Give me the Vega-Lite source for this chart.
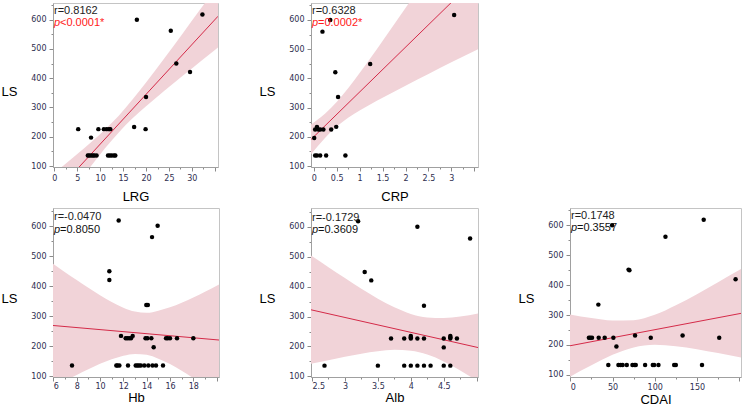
{
"$schema": "https://vega.github.io/schema/vega-lite/v6.json",
"padding": {"left": 0, "top": 0, "right": 0, "bottom": 0},
"datasets": {
"pts": [
{"v":"LRG","x":5.2,"ls":226},{"v":"LRG","x":8.0,"ls":197},{"v":"LRG","x":9.6,"ls":226},{"v":"LRG","x":10.8,"ls":226},{"v":"LRG","x":11.4,"ls":226},{"v":"LRG","x":11.9,"ls":226},{"v":"LRG","x":12.2,"ls":226},{"v":"LRG","x":17.4,"ls":233},{"v":"LRG","x":19.9,"ls":226},{"v":"LRG","x":20.0,"ls":336},{"v":"LRG","x":18.0,"ls":600},{"v":"LRG","x":25.4,"ls":562},{"v":"LRG","x":26.6,"ls":450},{"v":"LRG","x":29.6,"ls":421},{"v":"LRG","x":32.3,"ls":618},{"v":"LRG","x":7.3,"ls":136},{"v":"LRG","x":7.6,"ls":136},{"v":"LRG","x":8.0,"ls":136},{"v":"LRG","x":8.4,"ls":136},{"v":"LRG","x":8.7,"ls":136},{"v":"LRG","x":9.2,"ls":136},{"v":"LRG","x":11.7,"ls":136},{"v":"LRG","x":12.1,"ls":136},{"v":"LRG","x":12.5,"ls":136},{"v":"LRG","x":13.0,"ls":136},{"v":"LRG","x":13.3,"ls":136},
{"v":"CRP","x":0.36,"ls":600},{"v":"CRP","x":0.19,"ls":560},{"v":"CRP","x":1.23,"ls":449},{"v":"CRP","x":0.47,"ls":421},{"v":"CRP","x":0.53,"ls":336},{"v":"CRP","x":0.49,"ls":234},{"v":"CRP","x":0.38,"ls":225},{"v":"CRP","x":0.21,"ls":225},{"v":"CRP","x":0.03,"ls":225},{"v":"CRP","x":0.07,"ls":234},{"v":"CRP","x":0.10,"ls":225},{"v":"CRP","x":0.14,"ls":225},{"v":"CRP","x":0.01,"ls":196},{"v":"CRP","x":3.06,"ls":617},{"v":"CRP","x":0.03,"ls":136},{"v":"CRP","x":0.07,"ls":136},{"v":"CRP","x":0.14,"ls":136},{"v":"CRP","x":0.27,"ls":136},{"v":"CRP","x":0.69,"ls":136},
{"v":"Hb","x":7.6,"ls":135},{"v":"Hb","x":11.4,"ls":135},{"v":"Hb","x":11.5,"ls":135},{"v":"Hb","x":11.66,"ls":135},{"v":"Hb","x":12.4,"ls":135},{"v":"Hb","x":13.06,"ls":135},{"v":"Hb","x":13.2,"ls":135},{"v":"Hb","x":13.34,"ls":135},{"v":"Hb","x":13.5,"ls":135},{"v":"Hb","x":13.8,"ls":135},{"v":"Hb","x":14.14,"ls":135},{"v":"Hb","x":14.5,"ls":135},{"v":"Hb","x":14.8,"ls":135},{"v":"Hb","x":15.4,"ls":135},
{"v":"Hb","x":12.2,"ls":226},{"v":"Hb","x":12.34,"ls":226},{"v":"Hb","x":12.5,"ls":226},{"v":"Hb","x":12.66,"ls":226},{"v":"Hb","x":13.9,"ls":226},{"v":"Hb","x":14.06,"ls":226},{"v":"Hb","x":14.4,"ls":226},{"v":"Hb","x":15.66,"ls":226},{"v":"Hb","x":15.8,"ls":226},{"v":"Hb","x":16.0,"ls":226},{"v":"Hb","x":16.6,"ls":226},{"v":"Hb","x":18.0,"ls":226},{"v":"Hb","x":12.8,"ls":234},{"v":"Hb","x":11.8,"ls":234},
{"v":"Hb","x":14.6,"ls":196},{"v":"Hb","x":13.97,"ls":337},{"v":"Hb","x":14.1,"ls":337},{"v":"Hb","x":10.8,"ls":420},{"v":"Hb","x":10.8,"ls":449},{"v":"Hb","x":11.6,"ls":618},{"v":"Hb","x":14.46,"ls":563},{"v":"Hb","x":14.94,"ls":601},
{"v":"Alb","x":2.69,"ls":136},{"v":"Alb","x":3.5,"ls":136},{"v":"Alb","x":3.9,"ls":136},{"v":"Alb","x":4.0,"ls":136},{"v":"Alb","x":4.1,"ls":136},{"v":"Alb","x":4.2,"ls":136},{"v":"Alb","x":4.3,"ls":136},{"v":"Alb","x":4.5,"ls":136},{"v":"Alb","x":4.6,"ls":136},
{"v":"Alb","x":3.7,"ls":227},{"v":"Alb","x":3.9,"ls":227},{"v":"Alb","x":4.0,"ls":227},{"v":"Alb","x":4.1,"ls":227},{"v":"Alb","x":4.2,"ls":227},{"v":"Alb","x":4.5,"ls":227},{"v":"Alb","x":4.6,"ls":227},{"v":"Alb","x":4.7,"ls":227},{"v":"Alb","x":4.0,"ls":235},{"v":"Alb","x":4.0,"ls":231},{"v":"Alb","x":4.6,"ls":235},{"v":"Alb","x":4.6,"ls":231},
{"v":"Alb","x":4.5,"ls":197},{"v":"Alb","x":4.2,"ls":336},{"v":"Alb","x":3.3,"ls":449},{"v":"Alb","x":3.4,"ls":421},{"v":"Alb","x":3.2,"ls":619},{"v":"Alb","x":4.1,"ls":600},{"v":"Alb","x":4.9,"ls":561},
{"v":"CDAI","x":22,"ls":224},{"v":"CDAI","x":23.7,"ls":224},{"v":"CDAI","x":25.7,"ls":224},{"v":"CDAI","x":33.6,"ls":224},{"v":"CDAI","x":40.7,"ls":224},{"v":"CDAI","x":51,"ls":224},{"v":"CDAI","x":95.3,"ls":224},{"v":"CDAI","x":176.4,"ls":224},{"v":"CDAI","x":76.7,"ls":232},{"v":"CDAI","x":133,"ls":232},
{"v":"CDAI","x":54.6,"ls":195},{"v":"CDAI","x":33.2,"ls":335},{"v":"CDAI","x":70,"ls":450},{"v":"CDAI","x":69,"ls":452},{"v":"CDAI","x":112.7,"ls":562},{"v":"CDAI","x":158,"ls":619},{"v":"CDAI","x":49.5,"ls":600},{"v":"CDAI","x":195.8,"ls":420},
{"v":"CDAI","x":45,"ls":133},{"v":"CDAI","x":57,"ls":133},{"v":"CDAI","x":59.7,"ls":133},{"v":"CDAI","x":62,"ls":133},{"v":"CDAI","x":66.9,"ls":133},{"v":"CDAI","x":73.6,"ls":133},{"v":"CDAI","x":76,"ls":133},{"v":"CDAI","x":77.5,"ls":133},{"v":"CDAI","x":88.6,"ls":133},{"v":"CDAI","x":97.7,"ls":133},{"v":"CDAI","x":99.3,"ls":133},{"v":"CDAI","x":104.4,"ls":133},{"v":"CDAI","x":123,"ls":133},{"v":"CDAI","x":125,"ls":133},{"v":"CDAI","x":156,"ls":133}
],
"fit": [
{"v":"LRG","x":-0.3,"ls":-0.3},{"v":"LRG","x":35.7,"ls":611.7},
{"v":"CRP","x":-0.06,"ls":190.8},{"v":"CRP","x":3.58,"ls":749},
{"v":"Hb","x":5.97,"ls":268.6},{"v":"Hb","x":20.2,"ls":220.2},
{"v":"Alb","x":2.485,"ls":322.7},{"v":"Alb","x":5.02,"ls":196.5},
{"v":"CDAI","x":-0.4,"ls":197.4},{"v":"CDAI","x":202.2,"ls":305.8}
],
"band": [
{"v":"LRG","x":-0.3,"lo":-74,"hi":73},{"v":"LRG","x":2,"lo":-25,"hi":102},{"v":"LRG","x":5,"lo":38,"hi":141},{"v":"LRG","x":8,"lo":100,"hi":181},{"v":"LRG","x":11,"lo":160,"hi":224},{"v":"LRG","x":14,"lo":214,"hi":271},{"v":"LRG","x":17,"lo":262,"hi":326},{"v":"LRG","x":20,"lo":304,"hi":385},{"v":"LRG","x":24,"lo":357,"hi":468},{"v":"LRG","x":28,"lo":408,"hi":553},{"v":"LRG","x":32,"lo":459,"hi":639},{"v":"LRG","x":35.7,"lo":505,"hi":719},
{"v":"CRP","x":-0.06,"lo":140,"hi":242},{"v":"CRP","x":0.25,"lo":197,"hi":280},{"v":"CRP","x":0.5,"lo":235,"hi":319},{"v":"CRP","x":1,"lo":290,"hi":418},{"v":"CRP","x":1.5,"lo":334,"hi":528},{"v":"CRP","x":2,"lo":375,"hi":641},{"v":"CRP","x":2.5,"lo":415,"hi":755},{"v":"CRP","x":3,"lo":455,"hi":869},{"v":"CRP","x":3.58,"lo":500,"hi":1000},
{"v":"Hb","x":5.97,"lo":63,"hi":474},{"v":"Hb","x":7,"lo":84,"hi":446},{"v":"Hb","x":8,"lo":104,"hi":420},{"v":"Hb","x":9,"lo":123,"hi":394},{"v":"Hb","x":10,"lo":141,"hi":369},{"v":"Hb","x":11,"lo":156,"hi":347},{"v":"Hb","x":12,"lo":168,"hi":328},{"v":"Hb","x":13,"lo":174,"hi":315},{"v":"Hb","x":14,"lo":171,"hi":311},{"v":"Hb","x":15,"lo":158,"hi":318},{"v":"Hb","x":16,"lo":140,"hi":329},{"v":"Hb","x":17,"lo":118,"hi":344},{"v":"Hb","x":18,"lo":93,"hi":362},{"v":"Hb","x":19,"lo":67,"hi":381},{"v":"Hb","x":20.2,"lo":35,"hi":405},
{"v":"Alb","x":2.485,"lo":142,"hi":504},{"v":"Alb","x":2.75,"lo":154,"hi":465},{"v":"Alb","x":3.0,"lo":166,"hi":429},{"v":"Alb","x":3.25,"lo":176,"hi":393},{"v":"Alb","x":3.5,"lo":184,"hi":360},{"v":"Alb","x":3.75,"lo":189,"hi":331},{"v":"Alb","x":4.0,"lo":186,"hi":309},{"v":"Alb","x":4.25,"lo":173,"hi":297},{"v":"Alb","x":4.5,"lo":150,"hi":295},{"v":"Alb","x":4.75,"lo":120,"hi":300},{"v":"Alb","x":5.02,"lo":83,"hi":310},
{"v":"CDAI","x":-0.4,"lo":94,"hi":302},{"v":"CDAI","x":25,"lo":132,"hi":290},{"v":"CDAI","x":50,"lo":167,"hi":282},{"v":"CDAI","x":75,"lo":192,"hi":283},{"v":"CDAI","x":100,"lo":201,"hi":301},{"v":"CDAI","x":125,"lo":196,"hi":333},{"v":"CDAI","x":150,"lo":186,"hi":370},{"v":"CDAI","x":175,"lo":173,"hi":410},{"v":"CDAI","x":202.2,"lo":158,"hi":454}
],
"ann": [
{"v":"LRG","r":"r=0.8162","p":"<0.0001*","sig":"yes"},
{"v":"CRP","r":"r=0.6328","p":"=0.0002*","sig":"yes"},
{"v":"Hb","r":"r=-0.0470","p":"=0.8050","sig":"no"},
{"v":"Alb","r":"r=-0.1729","p":"=0.3609","sig":"no"},
{"v":"CDAI","r":"r=0.1748","p":"=0.3557","sig":"no"}
]
},
"spacing": 1,
"vconcat": [
{"bounds": "flush", "spacing": 93, "hconcat": [
{"width": 165, "height": 164, "layer": [
 {"data": {"name": "band"}, "transform": [{"filter": "datum.v === 'LRG'"}], "mark": {"type": "area", "color": "#f1d3d8", "interpolate": "monotone", "clip": true},
  "encoding": {
   "x": {"field": "x", "type": "quantitative", "title": "LRG", "scale": {"domain": [-0.3, 35.7], "nice": false, "zero": false},
     "axis": {"values": [0,2.5,5,7.5,10,12.5,15,17.5,20,22.5,25,27.5,30,32.5,35], "tickCount": 100, "labelOverlap": false, "labelExpr": "datum.value % 5 === 0 && datum.value <= 30 ? '' + datum.value : ''", "tickSize": {"condition": {"test": "datum.value % 5 !== 0", "value": 2}, "value": 4}, "titleY": 23, "titleX": 82.5, "titleBaseline": "top"}},
   "y": {"field": "lo", "type": "quantitative", "title": "LS", "scale": {"domain": [96.6, 657], "nice": false, "zero": false},
     "axis": {"values": [100,150,200,250,300,350,400,450,500,550,600,650], "tickCount": 100, "labelOverlap": false, "labelExpr": "datum.value % 100 === 0 ? '' + datum.value : ''", "tickSize": {"condition": {"test": "datum.value % 100 !== 0", "value": 2}, "value": 4}, "titleAngle": 0, "titleAlign": "left", "titleBaseline": "middle", "titleX": -52, "titleY": 88}},
   "y2": {"field": "hi"}}},
 {"data": {"name": "fit"}, "transform": [{"filter": "datum.v === 'LRG'"}], "mark": {"type": "line", "color": "#d42a48", "strokeWidth": 1, "clip": true},
  "encoding": {"x": {"field": "x", "type": "quantitative"}, "y": {"field": "ls", "type": "quantitative"}}},
 {"data": {"name": "pts"}, "transform": [{"filter": "datum.v === 'LRG'"}], "mark": {"type": "circle", "size": 20, "color": "#000", "opacity": 1},
  "encoding": {"x": {"field": "x", "type": "quantitative"}, "y": {"field": "ls", "type": "quantitative"}}},
 {"data": {"name": "ann"}, "transform": [{"filter": "datum.v === 'LRG'"}], "mark": {"type": "text", "align": "left", "baseline": "alphabetic", "font": "Liberation Sans", "fontSize": 11, "dx": 1, "color": "#222"},
  "encoding": {"x": {"datum": -0.3, "type": "quantitative"}, "y": {"datum": 620, "type": "quantitative"}, "text": {"field": "r"}}},
 {"data": {"name": "ann"}, "transform": [{"filter": "datum.v === 'LRG'"}], "mark": {"type": "text", "align": "left", "baseline": "alphabetic", "font": "Liberation Sans", "fontSize": 11, "fontStyle": "italic", "dx": 1, "text": "p"},
  "encoding": {"x": {"datum": -0.3, "type": "quantitative"}, "y": {"datum": 579, "type": "quantitative"}, "color": {"field": "sig", "type": "nominal", "scale": {"domain": ["yes", "no"], "range": ["#ff1a1a", "#111111"]}, "legend": null}}},
 {"data": {"name": "ann"}, "transform": [{"filter": "datum.v === 'LRG'"}], "mark": {"type": "text", "align": "left", "baseline": "alphabetic", "font": "Liberation Sans", "fontSize": 11, "dx": 7},
  "encoding": {"x": {"datum": -0.3, "type": "quantitative"}, "y": {"datum": 579, "type": "quantitative"}, "text": {"field": "p"}, "color": {"field": "sig", "type": "nominal", "scale": {"domain": ["yes", "no"], "range": ["#ff1a1a", "#111111"]}, "legend": null}}}
]},
{"width": 167, "height": 164, "layer": [
 {"data": {"name": "band"}, "transform": [{"filter": "datum.v === 'CRP'"}], "mark": {"type": "area", "color": "#f1d3d8", "interpolate": "monotone", "clip": true},
  "encoding": {
   "x": {"field": "x", "type": "quantitative", "title": "CRP", "scale": {"domain": [-0.06, 3.58], "nice": false, "zero": false},
     "axis": {"values": [0,0.25,0.5,0.75,1,1.25,1.5,1.75,2,2.25,2.5,2.75,3,3.25,3.5], "tickCount": 100, "labelOverlap": false, "labelExpr": "datum.value % 0.5 === 0 && datum.value <= 3 ? '' + datum.value : ''", "tickSize": {"condition": {"test": "datum.value % 0.5 !== 0", "value": 2}, "value": 4}, "titleY": 23, "titleX": 83.5, "titleBaseline": "top"}},
   "y": {"field": "lo", "type": "quantitative", "title": "LS", "scale": {"domain": [96.6, 658], "nice": false, "zero": false},
     "axis": {"values": [100,150,200,250,300,350,400,450,500,550,600,650], "tickCount": 100, "labelOverlap": false, "labelExpr": "datum.value % 100 === 0 ? '' + datum.value : ''", "tickSize": {"condition": {"test": "datum.value % 100 !== 0", "value": 2}, "value": 4}, "titleAngle": 0, "titleAlign": "left", "titleBaseline": "middle", "titleX": -52, "titleY": 88}},
   "y2": {"field": "hi"}}},
 {"data": {"name": "fit"}, "transform": [{"filter": "datum.v === 'CRP'"}], "mark": {"type": "line", "color": "#d42a48", "strokeWidth": 1, "clip": true},
  "encoding": {"x": {"field": "x", "type": "quantitative"}, "y": {"field": "ls", "type": "quantitative"}}},
 {"data": {"name": "pts"}, "transform": [{"filter": "datum.v === 'CRP'"}], "mark": {"type": "circle", "size": 20, "color": "#000", "opacity": 1},
  "encoding": {"x": {"field": "x", "type": "quantitative"}, "y": {"field": "ls", "type": "quantitative"}}},
 {"data": {"name": "ann"}, "transform": [{"filter": "datum.v === 'CRP'"}], "mark": {"type": "text", "align": "left", "baseline": "alphabetic", "font": "Liberation Sans", "fontSize": 11, "dx": 1, "color": "#222"},
  "encoding": {"x": {"datum": -0.06, "type": "quantitative"}, "y": {"datum": 620, "type": "quantitative"}, "text": {"field": "r"}}},
 {"data": {"name": "ann"}, "transform": [{"filter": "datum.v === 'CRP'"}], "mark": {"type": "text", "align": "left", "baseline": "alphabetic", "font": "Liberation Sans", "fontSize": 11, "fontStyle": "italic", "dx": 1, "text": "p"},
  "encoding": {"x": {"datum": -0.06, "type": "quantitative"}, "y": {"datum": 579, "type": "quantitative"}, "color": {"field": "sig", "type": "nominal", "scale": {"domain": ["yes", "no"], "range": ["#ff1a1a", "#111111"]}, "legend": null}}},
 {"data": {"name": "ann"}, "transform": [{"filter": "datum.v === 'CRP'"}], "mark": {"type": "text", "align": "left", "baseline": "alphabetic", "font": "Liberation Sans", "fontSize": 11, "dx": 7},
  "encoding": {"x": {"datum": -0.06, "type": "quantitative"}, "y": {"datum": 579, "type": "quantitative"}, "text": {"field": "p"}, "color": {"field": "sig", "type": "nominal", "scale": {"domain": ["yes", "no"], "range": ["#ff1a1a", "#111111"]}, "legend": null}}}
]}
]},
{"bounds": "flush", "spacing": 92, "hconcat": [
{"width": 166, "height": 169, "layer": [
 {"data": {"name": "band"}, "transform": [{"filter": "datum.v === 'Hb'"}], "mark": {"type": "area", "color": "#f1d3d8", "interpolate": "monotone", "clip": true},
  "encoding": {
   "x": {"field": "x", "type": "quantitative", "title": "Hb", "scale": {"domain": [5.97, 20.2], "nice": false, "zero": false},
     "axis": {"values": [6,7,8,9,10,11,12,13,14,15,16,17,18,19,20], "tickCount": 100, "labelOverlap": false, "labelPadding": 1, "labelExpr": "datum.value % 2 === 0 && datum.value <= 18 ? '' + datum.value : ''", "tickSize": {"condition": {"test": "datum.value % 2 !== 0", "value": 2}, "value": 4}, "titleY": 14, "titleX": 83, "titleBaseline": "top"}},
   "y": {"field": "lo", "type": "quantitative", "title": "LS", "scale": {"domain": [97, 660], "nice": false, "zero": false},
     "axis": {"values": [100,150,200,250,300,350,400,450,500,550,600,650], "tickCount": 100, "labelOverlap": false, "labelExpr": "datum.value % 100 === 0 ? '' + datum.value : ''", "tickSize": {"condition": {"test": "datum.value % 100 !== 0", "value": 2}, "value": 4}, "titleAngle": 0, "titleAlign": "left", "titleBaseline": "middle", "titleX": -52, "titleY": 90}},
   "y2": {"field": "hi"}}},
 {"data": {"name": "fit"}, "transform": [{"filter": "datum.v === 'Hb'"}], "mark": {"type": "line", "color": "#d42a48", "strokeWidth": 1, "clip": true},
  "encoding": {"x": {"field": "x", "type": "quantitative"}, "y": {"field": "ls", "type": "quantitative"}}},
 {"data": {"name": "pts"}, "transform": [{"filter": "datum.v === 'Hb'"}], "mark": {"type": "circle", "size": 20, "color": "#000", "opacity": 1},
  "encoding": {"x": {"field": "x", "type": "quantitative"}, "y": {"field": "ls", "type": "quantitative"}}},
 {"data": {"name": "ann"}, "transform": [{"filter": "datum.v === 'Hb'"}], "mark": {"type": "text", "align": "left", "baseline": "alphabetic", "font": "Liberation Sans", "fontSize": 11, "dx": 1, "color": "#222"},
  "encoding": {"x": {"datum": 5.97, "type": "quantitative"}, "y": {"datum": 619, "type": "quantitative"}, "text": {"field": "r"}}},
 {"data": {"name": "ann"}, "transform": [{"filter": "datum.v === 'Hb'"}], "mark": {"type": "text", "align": "left", "baseline": "alphabetic", "font": "Liberation Sans", "fontSize": 11, "fontStyle": "italic", "dx": 1, "text": "p"},
  "encoding": {"x": {"datum": 5.97, "type": "quantitative"}, "y": {"datum": 578, "type": "quantitative"}, "color": {"field": "sig", "type": "nominal", "scale": {"domain": ["yes", "no"], "range": ["#ff1a1a", "#111111"]}, "legend": null}}},
 {"data": {"name": "ann"}, "transform": [{"filter": "datum.v === 'Hb'"}], "mark": {"type": "text", "align": "left", "baseline": "alphabetic", "font": "Liberation Sans", "fontSize": 11, "dx": 7},
  "encoding": {"x": {"datum": 5.97, "type": "quantitative"}, "y": {"datum": 578, "type": "quantitative"}, "text": {"field": "p"}, "color": {"field": "sig", "type": "nominal", "scale": {"domain": ["yes", "no"], "range": ["#ff1a1a", "#111111"]}, "legend": null}}}
]},
{"width": 167, "height": 169, "layer": [
 {"data": {"name": "band"}, "transform": [{"filter": "datum.v === 'Alb'"}], "mark": {"type": "area", "color": "#f1d3d8", "interpolate": "monotone", "clip": true},
  "encoding": {
   "x": {"field": "x", "type": "quantitative", "title": "Alb", "scale": {"domain": [2.485, 5.02], "nice": false, "zero": false},
     "axis": {"values": [2.5,2.75,3,3.25,3.5,3.75,4,4.25,4.5,4.75,5], "tickCount": 100, "labelOverlap": false, "labelPadding": 1, "labelExpr": "datum.value % 0.5 === 0 && datum.value <= 4.5 ? '' + datum.value : ''", "tickSize": {"condition": {"test": "datum.value % 0.5 !== 0", "value": 2}, "value": 4}, "titleY": 14, "titleX": 83.5, "titleBaseline": "top"}},
   "y": {"field": "lo", "type": "quantitative", "title": "LS", "scale": {"domain": [98, 663], "nice": false, "zero": false},
     "axis": {"values": [100,150,200,250,300,350,400,450,500,550,600,650], "tickCount": 100, "labelOverlap": false, "labelExpr": "datum.value % 100 === 0 ? '' + datum.value : ''", "tickSize": {"condition": {"test": "datum.value % 100 !== 0", "value": 2}, "value": 4}, "titleAngle": 0, "titleAlign": "left", "titleBaseline": "middle", "titleX": -52, "titleY": 90}},
   "y2": {"field": "hi"}}},
 {"data": {"name": "fit"}, "transform": [{"filter": "datum.v === 'Alb'"}], "mark": {"type": "line", "color": "#d42a48", "strokeWidth": 1, "clip": true},
  "encoding": {"x": {"field": "x", "type": "quantitative"}, "y": {"field": "ls", "type": "quantitative"}}},
 {"data": {"name": "pts"}, "transform": [{"filter": "datum.v === 'Alb'"}], "mark": {"type": "circle", "size": 20, "color": "#000", "opacity": 1},
  "encoding": {"x": {"field": "x", "type": "quantitative"}, "y": {"field": "ls", "type": "quantitative"}}},
 {"data": {"name": "ann"}, "transform": [{"filter": "datum.v === 'Alb'"}], "mark": {"type": "text", "align": "left", "baseline": "alphabetic", "font": "Liberation Sans", "fontSize": 11, "dx": 1, "color": "#222"},
  "encoding": {"x": {"datum": 2.485, "type": "quantitative"}, "y": {"datum": 620, "type": "quantitative"}, "text": {"field": "r"}}},
 {"data": {"name": "ann"}, "transform": [{"filter": "datum.v === 'Alb'"}], "mark": {"type": "text", "align": "left", "baseline": "alphabetic", "font": "Liberation Sans", "fontSize": 11, "fontStyle": "italic", "dx": 1, "text": "p"},
  "encoding": {"x": {"datum": 2.485, "type": "quantitative"}, "y": {"datum": 580, "type": "quantitative"}, "color": {"field": "sig", "type": "nominal", "scale": {"domain": ["yes", "no"], "range": ["#ff1a1a", "#111111"]}, "legend": null}}},
 {"data": {"name": "ann"}, "transform": [{"filter": "datum.v === 'Alb'"}], "mark": {"type": "text", "align": "left", "baseline": "alphabetic", "font": "Liberation Sans", "fontSize": 11, "dx": 7},
  "encoding": {"x": {"datum": 2.485, "type": "quantitative"}, "y": {"datum": 580, "type": "quantitative"}, "text": {"field": "p"}, "color": {"field": "sig", "type": "nominal", "scale": {"domain": ["yes", "no"], "range": ["#ff1a1a", "#111111"]}, "legend": null}}}
]},
{"width": 171, "height": 169, "layer": [
 {"data": {"name": "band"}, "transform": [{"filter": "datum.v === 'CDAI'"}], "mark": {"type": "area", "color": "#f1d3d8", "interpolate": "monotone", "clip": true},
  "encoding": {
   "x": {"field": "x", "type": "quantitative", "title": "CDAI", "scale": {"domain": [-0.4, 202.2], "nice": false, "zero": false},
     "axis": {"values": [0,25,50,75,100,125,150,175,200], "tickCount": 100, "labelOverlap": false, "labelPadding": 2, "labelExpr": "datum.value % 50 === 0 && datum.value <= 150 ? '' + datum.value : ''", "tickSize": {"condition": {"test": "datum.value % 50 !== 0", "value": 2}, "value": 4}, "titleY": 16, "titleX": 85.5, "titleBaseline": "top"}},
   "y": {"field": "lo", "type": "quantitative", "title": "LS", "scale": {"domain": [93, 658], "nice": false, "zero": false},
     "axis": {"values": [100,150,200,250,300,350,400,450,500,550,600,650], "tickCount": 100, "labelOverlap": false, "labelExpr": "datum.value % 100 === 0 ? '' + datum.value : ''", "tickSize": {"condition": {"test": "datum.value % 100 !== 0", "value": 2}, "value": 4}, "titleAngle": 0, "titleAlign": "left", "titleBaseline": "middle", "titleX": -52, "titleY": 90}},
   "y2": {"field": "hi"}}},
 {"data": {"name": "fit"}, "transform": [{"filter": "datum.v === 'CDAI'"}], "mark": {"type": "line", "color": "#d42a48", "strokeWidth": 1, "clip": true},
  "encoding": {"x": {"field": "x", "type": "quantitative"}, "y": {"field": "ls", "type": "quantitative"}}},
 {"data": {"name": "pts"}, "transform": [{"filter": "datum.v === 'CDAI'"}], "mark": {"type": "circle", "size": 20, "color": "#000", "opacity": 1},
  "encoding": {"x": {"field": "x", "type": "quantitative"}, "y": {"field": "ls", "type": "quantitative"}}},
 {"data": {"name": "ann"}, "transform": [{"filter": "datum.v === 'CDAI'"}], "mark": {"type": "text", "align": "left", "baseline": "alphabetic", "font": "Liberation Sans", "fontSize": 11, "dx": 1, "color": "#222"},
  "encoding": {"x": {"datum": -0.4, "type": "quantitative"}, "y": {"datum": 620, "type": "quantitative"}, "text": {"field": "r"}}},
 {"data": {"name": "ann"}, "transform": [{"filter": "datum.v === 'CDAI'"}], "mark": {"type": "text", "align": "left", "baseline": "alphabetic", "font": "Liberation Sans", "fontSize": 11, "fontStyle": "italic", "dx": 1, "text": "p"},
  "encoding": {"x": {"datum": -0.4, "type": "quantitative"}, "y": {"datum": 580, "type": "quantitative"}, "color": {"field": "sig", "type": "nominal", "scale": {"domain": ["yes", "no"], "range": ["#ff1a1a", "#111111"]}, "legend": null}}},
 {"data": {"name": "ann"}, "transform": [{"filter": "datum.v === 'CDAI'"}], "mark": {"type": "text", "align": "left", "baseline": "alphabetic", "font": "Liberation Sans", "fontSize": 11, "dx": 7},
  "encoding": {"x": {"datum": -0.4, "type": "quantitative"}, "y": {"datum": 580, "type": "quantitative"}, "text": {"field": "p"}, "color": {"field": "sig", "type": "nominal", "scale": {"domain": ["yes", "no"], "range": ["#ff1a1a", "#111111"]}, "legend": null}}}
]}
]}
],
"config": {
 "view": {"stroke": "#c4c4c4", "strokeWidth": 1},
 "axis": {"labelFont": "DejaVu Sans", "labelFontSize": 8, "labelColor": "#2e2e4f", "tickColor": "#8a8a8a", "domainColor": "#a0a0a0", "grid": false, "titleFont": "Liberation Sans", "titleFontSize": 13, "titleFontWeight": "normal", "titleColor": "#000", "labelPadding": 3, "labelOverlap": false},
 "text": {"font": "Liberation Sans"}
}
}
